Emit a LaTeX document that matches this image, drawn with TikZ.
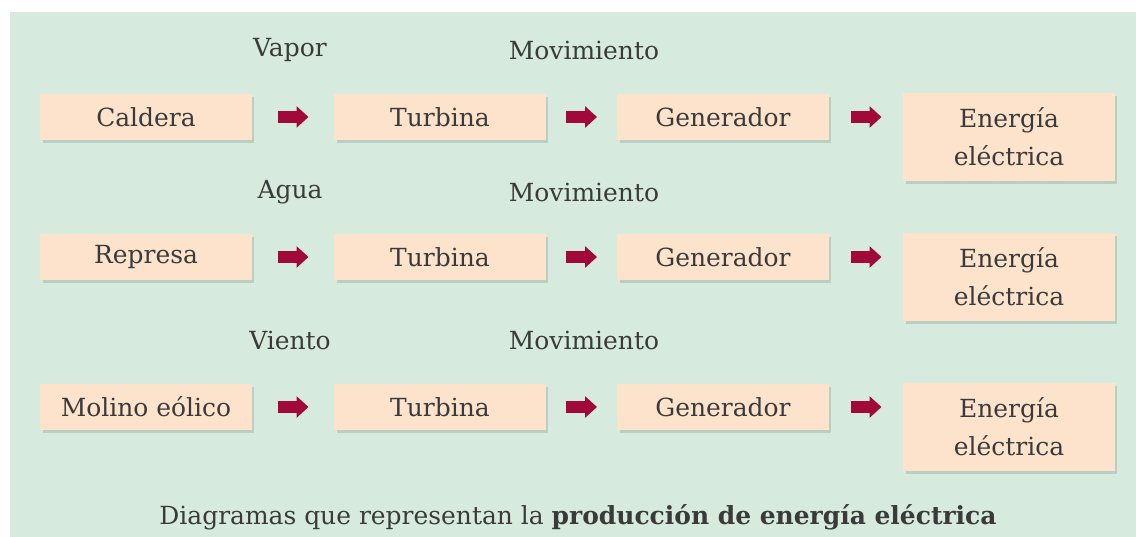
\documentclass[tikz,border=0pt]{standalone}
\usepackage{fontspec}
\setmainfont{DejaVu Serif}
\usetikzlibrary{positioning,arrows.meta,shadows,calc}

\definecolor{fondo}{HTML}{D6EBDD}
\definecolor{caja}{HTML}{FDE3CC}
\definecolor{flecha}{HTML}{A2093B}
\definecolor{texto}{HTML}{3A3A3A}

\tikzset{
  paso/.style={fill=caja, minimum width=4.24cm, minimum height=0.92cm,
    inner sep=0pt, align=center, text=texto, font=\fontsize{14.2}{21.5}\selectfont,
    drop shadow={shadow xshift=0.05cm, shadow yshift=-0.06cm, opacity=0.12, fill=black}},
  final/.style={paso, minimum height=1.76cm},
  etiqueta/.style={text=texto, font=\fontsize{14.2}{18.5}\selectfont},
  avance/.style={flecha, line width=0.24cm,
    -{Triangle[length=0.24cm,width=0.42cm]}}
}

\begin{document}
\begin{tikzpicture}[x=0.02cm,y=-0.02cm]
        \useasboundingbox (0,0) rectangle (1136,537);
        \fill[fondo] (10,12) rectangle (1136,537);

        % fila 1
        \node[paso] (cal) at (146,117) {Caldera};
        \node[paso] (tur1) at (440,117) {Turbina};
        \node[paso] (gen1) at (723,117) {Generador};
        \node[final] (ene1) at (1009,137) {Energía\\eléctrica};
        \node[etiqueta] (vap) at (290,50) {Vapor};
        \node[etiqueta] (mov1) at (584,50) {Movimiento};

        % fila 2
        \node[paso] (rep) at (146,257) {Represa};
        \node[paso] (tur2) at (440,257) {Turbina};
        \node[paso] (gen2) at (723,257) {Generador};
        \node[final] (ene2) at (1009,277) {Energía\\eléctrica};
        \node[etiqueta] (agu) at (290,192) {Agua};
        \node[etiqueta] (mov2) at (584,192) {Movimiento};

        % fila 3
        \node[paso] (mol) at (146,407) {Molino eólico};
        \node[paso] (tur3) at (440,407) {Turbina};
        \node[paso] (gen3) at (723,407) {Generador};
        \node[final] (ene3) at (1009,427) {Energía\\eléctrica};
        \node[etiqueta] (vie) at (290,340) {Viento};
        \node[etiqueta] (mov3) at (584,340) {Movimiento};

        \foreach \a/\b in {cal/tur1,tur1/gen1,rep/tur2,tur2/gen2,mol/tur3,tur3/gen3}
          \draw[avance] ($(\a.east)!.5!(\b.west)$) +(-15.5,0) -- +(15.5,0);
        \foreach \a/\b in {gen1/ene1,gen2/ene2,gen3/ene3}
          \draw[avance] ($(\a.east)!.5!(\a.east -| \b.west)$) +(-15.5,0) -- +(15.5,0);

        \node[etiqueta] (pie) at (578,517) {Diagramas que representan la \textbf{producción de energía eléctrica}};
      \end{tikzpicture}
\end{document}
